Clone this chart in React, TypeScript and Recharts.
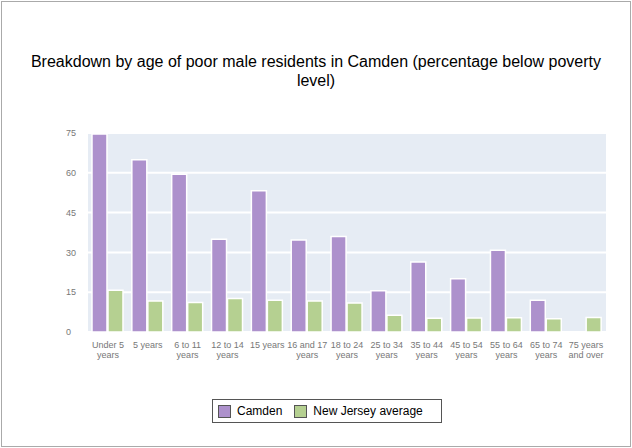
import React from "react";
import { BarChart, Bar, XAxis, YAxis, CartesianGrid } from "recharts";

const categories = ["Under 5|years", "5 years", "6 to 11|years", "12 to 14|years", "15 years", "16 and 17|years", "18 to 24|years", "25 to 34|years", "35 to 44|years", "45 to 54|years", "55 to 64|years", "65 to 74|years", "75 years|and over"];
const camden = [74.6, 64.9, 59.5, 35.0, 53.2, 34.7, 36.0, 15.5, 26.4, 20.1, 30.8, 12.0, 0];
const njAverage = [15.7, 11.7, 11.1, 12.6, 12.0, 11.7, 10.9, 6.3, 5.2, 5.3, 5.4, 5.0, 5.5];
const yTicks = [0, 15, 30, 45, 60, 75];

const data = categories.map((c, i) => ({ name: c, camden: camden[i], nj: njAverage[i] }));

const PURPLE = "#ad91cc";
const GREEN = "#b5d091";

const Tick = (props: any) => {
  const { x, y, payload } = props;
  const lines = String(payload.value).split("|");
  return (
    <g transform={`translate(${x},${y})`}>
      {lines.map((l, i) => (
        <text key={i} x={0} y={8 + i * 10} textAnchor="middle" fontSize={9} fill="#777" fontFamily="Arial, Liberation Sans, sans-serif">{l}</text>
      ))}
    </g>
  );
};

export default function App() {
  return (
    <div style={{ position: "absolute", left: 0, top: 0, width: 632, height: 448, fontFamily: "Arial, 'Liberation Sans', sans-serif", background: "#fff" }}>
      <div style={{ position: "absolute", left: 1, top: 1, width: 628, height: 444, border: "1px solid #aaa" }} />
      <div style={{ position: "absolute", left: 20, top: 52, width: 592, textAlign: "center", fontSize: 16, lineHeight: "19px", color: "#000" }}>
        Breakdown by age of poor male residents in Camden (percentage below poverty level)
      </div>
      <div style={{ position: "absolute", left: 0, top: 0 }}>
        <BarChart width={632} height={448} data={data} margin={{ top: 133, left: 58, right: 26, bottom: 86 }} barCategoryGap="10%" barGap={1}>
          <CartesianGrid vertical={false} stroke="#fff" strokeWidth={2} fill="#e6ecf4" />
          <XAxis dataKey="name" tick={<Tick />} tickLine={false} axisLine={false} interval={0} height={30} />
          <YAxis width={30} domain={[0, 75]} ticks={yTicks} allowDataOverflow tickLine={false} axisLine={false} tick={{ fontSize: 9, fill: "#777", dx: -14, textAnchor: "start" } as any} />
          <Bar dataKey="camden" fill={PURPLE} stroke="#fff" strokeWidth={1.5} isAnimationActive={false} />
          <Bar dataKey="nj" fill={GREEN} stroke="#fff" strokeWidth={1.5} isAnimationActive={false} />
        </BarChart>
      </div>
      <div style={{ position: "absolute", left: 212, top: 399, width: 228, height: 22, border: "1px solid #555", display: "flex", alignItems: "center", fontSize: 12, color: "#000" }}>
        <span style={{ display: "inline-block", width: 11, height: 11, background: PURPLE, border: "1px solid #555", marginLeft: 5, marginRight: 6 }} />
        <span>Camden</span>
        <span style={{ display: "inline-block", width: 11, height: 11, background: GREEN, border: "1px solid #555", marginLeft: 12, marginRight: 6 }} />
        <span>New Jersey average</span>
      </div>
    </div>
  );
}
